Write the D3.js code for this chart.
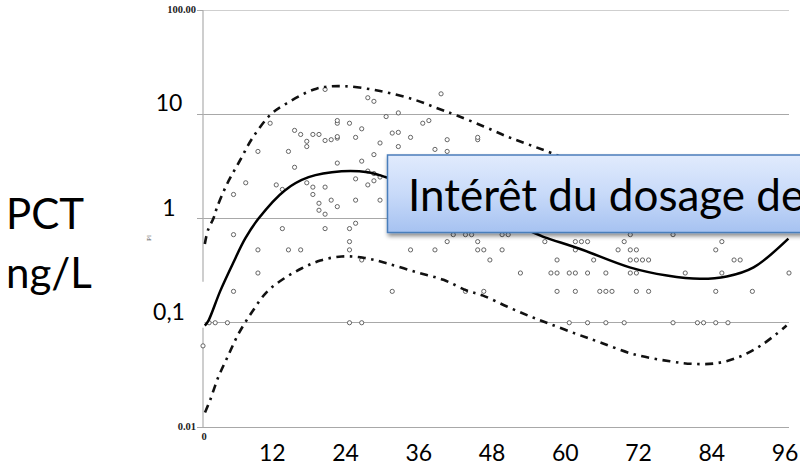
<!DOCTYPE html>
<html>
<head>
<meta charset="utf-8">
<script src="https://cdn.jsdelivr.net/npm/d3@7"></script>
<style>
  body { margin: 0; background: #fff; }
  svg { display: block; }
</style>
</head>
<body>
<svg id="chart" width="800" height="465"></svg>
<script>
// PCT (ng/L) vs hours, log scale
const gridValues = [0.01, 0.1, 1, 10, 100];
const bigYLabels = [[10, "10"], [1, "1"], [0.1, "0,1"]];
const smallYLabels = [[100, "100.00"], [0.01, "0.01"]];
const xTicks = [12, 24, 36, 48, 60, 72, 84, 96];

// [hour, PCT] observed patients
const scatter = [
  [0,0.06],[1,0.1],[2,0.1],[4,0.1],[5,0.2],[5,0.7],[5,1.7],[7,2.2],[9,0.3],[9,0.5],[9,4.4],
  [11,8.2],[12,2.1],[13,0.8],[13,1.9],[14,0.5],[14,4.4],[15,3.1],[15,7.0],[16,0.5],[16,6.4],
  [17,2.2],[17,4.9],[17,5.5],[18,1.7],[18,2.0],[18,6.4],[19,1.2],[19,1.4],[19,6.4],[20,0.8],
  [20,1.1],[20,2.0],[20,5.6],[20,17.3],[21,1.5],[21,5.7],[22,1.3],[22,3.4],[22,5.9],[22,6.1],
  [22,8.2],[22,8.7],[24,0.1],[24,0.5],[24,0.6],[24,0.8],[24,8.2],[25,0.9],[25,1.5],[25,2.4],
  [25,6.0],[26,0.1],[26,0.4],[26,3.55],[26,7.25],[27,2.1],[27,2.85],[27,14.4],[28,2.3],[28,2.7],
  [28,4.1],[28,13.3],[29,1.5],[29,2.5],[29,5.3],[30,9.5],[31,0.2],[31,6.6],[32,4.9],[32,6.7],
  [32,10.3],[34,0.5],[34,6.0],[36,8.2],[37,8.7],[38,0.5],[38,4.6],[39,15.7],[40,0.6],[40,4.4],
  [40,5.7],[41,0.7],[43,0.2],[43,0.7],[44,0.7],[45,0.5],[45,0.6],[45,5.7],[45,6.0],[46,0.2],
  [46,0.5],[47,0.4],[49,0.5],[49,0.7],[50,0.7],[52,0.3],[56,0.6],[57,0.3],[58,0.2],[58,0.3],
  [58,0.4],[60,0.1],[60,0.3],[61,0.2],[61,0.3],[61,0.5],[61,0.6],[62,0.6],[63,0.1],[63,0.3],
  [63,0.6],[64,0.4],[65,0.2],[66,0.1],[66,0.2],[66,0.3],[67,0.2],[68,0.5],[69,0.1],[69,0.6],
  [70,0.3],[70,0.4],[70,0.5],[70,0.7],[71,0.2],[71,0.3],[71,0.4],[71,0.5],[72,0.4],[73,0.2],
  [73,0.4],[77,0.1],[77,0.7],[79,0.3],[81,0.1],[82,0.1],[84,0.1],[84,0.2],[84,0.5],[85,0.3],
  [85,0.6],[86,0.1],[87,0.4],[88,0.4],[90,0.2],[96,0.3]
];

// fitted mean curve
const meanCurve = [
  [0.3,0.094],[0.9,0.105],[2.8,0.2],[4.9,0.37],[6.9,0.64],[9.1,1.0],[13.4,1.86],[17.3,2.49],
  [22.7,2.84],[27,2.78],[30,2.49],[36,1.9],[42,1.4],[48,1.0],[54.7,0.71],[56,0.66],[61.8,0.51],
  [69.9,0.34],[76,0.284],[81.4,0.264],[85.8,0.278],[90.2,0.34],[95.9,0.64]
];
// upper bound
const upperCurve = [
  [0.3,0.57],[0.8,0.77],[1.7,1.0],[2.3,1.28],[3.9,2.12],[6.05,3.6],[8.2,6.03],[11.2,10.1],
  [13.6,12.6],[18.6,17.6],[22.9,18.6],[29,16.7],[34.6,13.8],[38.6,11.3],[41.6,9.73],[46,7.64],
  [49.8,6.12],[53,5.21],[57.4,4.18],[66,2.6],[72,2.1],[78,1.8],[84,1.75],[90,2.2],[95.6,4.0]
];
// lower bound
const lowerCurve = [
  [0.33,0.0138],[1.15,0.018],[2.5,0.030],[4.1,0.048],[5.8,0.078],[8.0,0.126],[10.4,0.196],
  [13.2,0.264],[16.2,0.333],[19.2,0.395],[22.7,0.432],[26.3,0.42],[30.1,0.372],[35,0.305],
  [39.4,0.258],[43.2,0.204],[45.9,0.182],[49.8,0.143],[53.6,0.115],[56.8,0.0975],[61.2,0.078],
  [65,0.065],[70.5,0.05],[76.5,0.0427],[80.3,0.0403],[84.2,0.041],[88,0.0474],[91.8,0.0628],
  [95.6,0.094]
];

const svg = d3.select("#chart");
const x = d3.scaleLinear().domain([0, 96]).range([203, 789]);
const y = d3.scaleLog().domain([0.01, 100]).range([427, 10]);

const defs = svg.append("defs");
const grad = defs.append("linearGradient").attr("id", "boxGrad")
  .attr("x1", 0).attr("y1", 0).attr("x2", 0).attr("y2", 1);
grad.append("stop").attr("offset", "0%").attr("stop-color", "#e1ebfd");
grad.append("stop").attr("offset", "50%").attr("stop-color", "#c8daf9");
grad.append("stop").attr("offset", "100%").attr("stop-color", "#a6c2f1");
const shadow = defs.append("filter").attr("id", "shadow")
  .attr("x", "-10%").attr("y", "-20%").attr("width", "130%").attr("height", "160%");
shadow.append("feDropShadow").attr("dx", 1).attr("dy", 3).attr("stdDeviation", 2)
  .attr("flood-color", "#000").attr("flood-opacity", 0.45);

// gridlines
svg.append("g").selectAll("line").data(gridValues).join("line")
  .attr("x1", x(0)).attr("x2", x(96))
  .attr("y1", d => y(d)).attr("y2", d => y(d))
  .attr("stroke", d => d === 100 ? "#cfcfcf" : "#a8a8a8")
  .attr("stroke-width", 1)
  .attr("shape-rendering", "crispEdges");

// left axis + small ticks
svg.append("line")
  .attr("x1", x(0)).attr("x2", x(0)).attr("y1", y(100)).attr("y2", y(0.01))
  .attr("stroke", "#b4b4b4").attr("stroke-width", 1.3);
svg.append("g").selectAll("line").data(gridValues).join("line")
  .attr("x1", x(0) - 6).attr("x2", x(0))
  .attr("y1", d => y(d)).attr("y2", d => y(d))
  .attr("stroke", "#a8a8a8").attr("shape-rendering", "crispEdges");

// original small labels
svg.append("g").selectAll("text").data(smallYLabels).join("text")
  .attr("x", x(0) - 7).attr("y", d => y(d[0]) + 3)
  .attr("text-anchor", "end")
  .style("font", "bold 10.5px 'Liberation Serif', serif").attr("fill", "#222")
  .text(d => d[1]);
svg.append("text").attr("x", x(0) + 1).attr("y", 440).attr("text-anchor", "middle")
  .style("font", "bold 10.5px 'Liberation Serif', serif").attr("fill", "#222").text("0");
svg.append("text").attr("transform", "translate(151,238) rotate(-90)")
  .attr("text-anchor", "middle")
  .style("font", "7px 'Liberation Serif', serif").attr("fill", "#555").text("Pl");

// label background covering axis
svg.append("rect").attr("x", 140).attr("y", y(0.1) - 41).attr("width", 64.5).attr("height", 46)
  .attr("fill", "#fff");

// big y labels
svg.append("g").selectAll("text").data(bigYLabels).join("text")
  .attr("x", 169).attr("y", d => y(d[0]) - 3)
  .attr("text-anchor", "middle")
  .style("font", "23px Lato, sans-serif").attr("fill", "#000")
  .text(d => d[1]);

// big x labels
svg.append("g").selectAll("text").data(xTicks).join("text")
  .attr("x", d => x(d) - 4).attr("y", 461)
  .attr("text-anchor", "middle")
  .style("font", "23px Lato, sans-serif").attr("fill", "#000")
  .text(d => d);

// axis title
svg.append("text").attr("x", 6).attr("y", 229)
  .style("font", "42px Lato, sans-serif").attr("fill", "#000").text("PCT");
svg.append("text").attr("x", 6).attr("y", 288)
  .style("font", "42px Lato, sans-serif").attr("fill", "#000").text("ng/L");

// points
svg.append("g").selectAll("circle").data(scatter).join("circle")
  .attr("cx", d => x(d[0])).attr("cy", d => y(d[1]))
  .attr("r", 2.1)
  .attr("fill", "#fff").attr("stroke", "#555").attr("stroke-width", 0.9);

// curves
const line = d3.line()
  .x(d => x(d[0])).y(d => y(d[1]))
  .curve(d3.curveCatmullRom.alpha(0.5));
svg.append("path").datum(upperCurve).attr("d", line)
  .attr("fill", "none").attr("stroke", "#111").attr("stroke-width", 2.6)
  .attr("stroke-dasharray", "8,5.5,2.5,5.5");
svg.append("path").datum(lowerCurve).attr("d", line)
  .attr("fill", "none").attr("stroke", "#111").attr("stroke-width", 2.6)
  .attr("stroke-dasharray", "8,5.5,2.5,5.5");
svg.append("path").datum(meanCurve).attr("d", line)
  .attr("fill", "none").attr("stroke", "#000").attr("stroke-width", 2.5);

// title box overlay
svg.append("rect")
  .attr("x", 387.5).attr("y", 155).attr("width", 440).attr("height", 77.5)
  .attr("fill", "url(#boxGrad)").attr("stroke", "#4a7ebb").attr("stroke-width", 1.5)
  .attr("filter", "url(#shadow)");
svg.append("text").attr("x", 408).attr("y", 211)
  .style("font", "44px Lato, sans-serif").attr("fill", "#000")
  .text("Intérêt du dosage de");
</script>
</body>
</html>
